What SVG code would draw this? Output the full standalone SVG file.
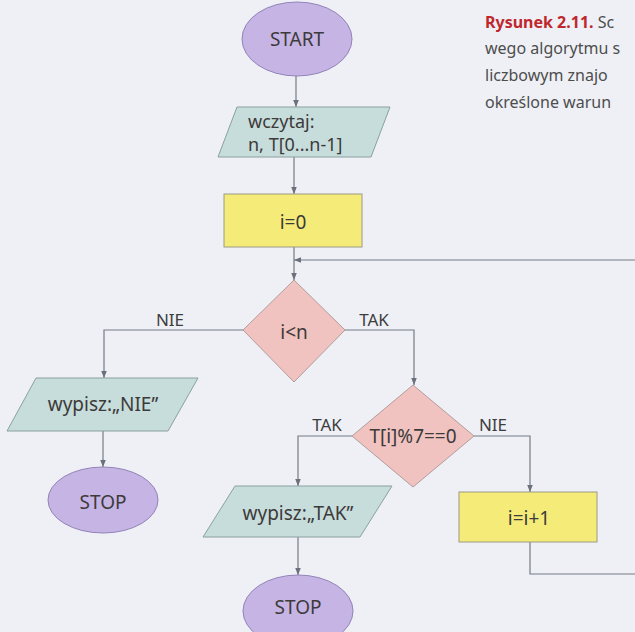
<svg xmlns="http://www.w3.org/2000/svg" width="635" height="632" viewBox="0 0 635 632">
<defs>
<marker id="ah" viewBox="0 0 10 10" refX="10" refY="5" markerWidth="7" markerHeight="7" orient="auto" markerUnits="userSpaceOnUse">
<path d="M0,1 L10,5 L0,9 z" fill="#6b717c"/>
</marker>
<style>
.t{font-family:"Noto Sans","Open Sans","Liberation Sans",sans-serif;font-size:19px;fill:#3d3a3a;text-anchor:middle}
.tl{font-family:"Noto Sans","Open Sans","Liberation Sans",sans-serif;font-size:18px;fill:#3d3a3a;text-anchor:start}
.lbl{font-family:"Noto Sans","Open Sans","Liberation Sans",sans-serif;font-size:17px;fill:#3d3d3d;text-anchor:middle}
.cap{font-family:"Noto Sans","Open Sans","Liberation Sans",sans-serif;font-size:16px;fill:#4d4d4d}
.term{fill:#c6b4e4;stroke:#9283b8;stroke-width:1}
.io{fill:#c7dddc;stroke:#8aa0a2;stroke-width:1}
.proc{fill:#f4eb78;stroke:#9c9a86;stroke-width:1}
.dec{fill:#f1c3c0;stroke:#b39c9c;stroke-width:1}
.c{fill:none;stroke:#757b86;stroke-width:1.2}
</style>
</defs>
<rect x="0" y="0" width="635" height="632" fill="#eef0f6"/>
<g id="caption">
<text class="cap" x="485" y="28"><tspan font-weight="bold" fill="#c0272d">Rysunek 2.11.</tspan> Sc</text>
<text class="cap" x="485" y="54">wego algorytmu s</text>
<text class="cap" x="485" y="81">liczbowym  znajo</text>
<text class="cap" x="485" y="108">określone warun</text>
</g>
<g id="connectors">
<path class="c" d="M296,76 V107" marker-end="url(#ah)"/>
<path class="c" d="M294,157 V194" marker-end="url(#ah)"/>
<path class="c" d="M294,247 V280" marker-end="url(#ah)"/>
<path class="c" d="M640,260 H294" marker-end="url(#ah)"/>
<path class="c" d="M243,330 H104 V378" marker-end="url(#ah)"/>
<path class="c" d="M345,330 H414 V385" marker-end="url(#ah)"/>
<path class="c" d="M103,431 V467" marker-end="url(#ah)"/>
<path class="c" d="M352,436 H298 V486" marker-end="url(#ah)"/>
<path class="c" d="M474,436 H530 V492" marker-end="url(#ah)"/>
<path class="c" d="M298,537 V575" marker-end="url(#ah)"/>
<path class="c" d="M530,542 V574 H640"/>
</g>
<g id="labels">
<text class="lbl" x="170" y="326">NIE</text>
<text class="lbl" x="374" y="326">TAK</text>
<text class="lbl" x="327" y="431">TAK</text>
<text class="lbl" x="493" y="431">NIE</text>
</g>
<g id="start">
<ellipse class="term" cx="297" cy="39" rx="55" ry="37"/>
<text class="t" x="297" y="46" font-size="18">START</text>
</g>
<g id="input">
<polygon class="io" points="237,107 390,107 371,157 218,157"/>
<text class="tl" x="248" y="128">wczytaj:</text>
<text class="tl" x="248" y="151">n, T[0...n-1]</text>
</g>
<g id="init">
<rect class="proc" x="224" y="194" width="138" height="53"/>
<text class="t" x="293" y="229">i=0</text>
</g>
<g id="cond1">
<polygon class="dec" points="294,280 345,330 294,382 243,330"/>
<text class="t" x="294" y="339">i&lt;n</text>
</g>
<g id="outNie">
<polygon class="io" points="36,378 198,378 168,431 7,431"/>
<text class="t" x="103" y="411">wypisz:„NIE”</text>
</g>
<g id="stop1">
<ellipse class="term" cx="103" cy="500" rx="55" ry="33"/>
<text class="t" x="103" y="509" font-size="18">STOP</text>
</g>
<g id="cond2">
<polygon class="dec" points="413,385 474,436 413,487 352,436"/>
<text class="t" x="413" y="443">T[i]%7==0</text>
</g>
<g id="outTak">
<polygon class="io" points="235,486 392,486 360,537 203,537"/>
<text class="t" x="298" y="520">wypisz:„TAK”</text>
</g>
<g id="inc">
<rect class="proc" x="459" y="492" width="138" height="50"/>
<text class="t" x="529" y="525">i=i+1</text>
</g>
<g id="stop2">
<ellipse class="term" cx="298" cy="611" rx="55" ry="36"/>
<text class="t" x="298" y="614" font-size="18">STOP</text>
</g>
</svg>
